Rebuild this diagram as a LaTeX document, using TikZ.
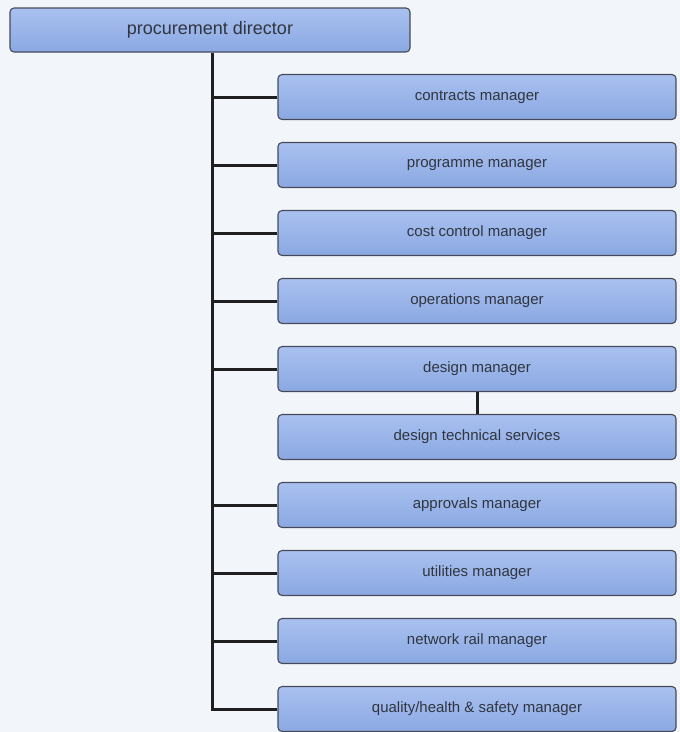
\documentclass[tikz,border=0pt]{standalone}
\usepackage{fontspec}
\setmainfont{Liberation Sans}
\definecolor{boxtop}{HTML}{A9C1F0}
\definecolor{boxbot}{HTML}{8BA8E2}
\definecolor{boxline}{HTML}{454B58}
\definecolor{boxtext}{HTML}{30353F}
\definecolor{bg}{HTML}{F2F5F9}
\begin{document}
\begin{tikzpicture}[x=1pt,y=-1pt,
  box/.style={draw=boxline, line width=1.1pt, rounded corners=4pt,
    top color=boxtop, bottom color=boxbot,
    text=boxtext, inner sep=0pt, anchor=center},
  childbox/.style={box, minimum width=398pt, minimum height=45pt, font=\fontsize{15}{17}\selectfont},
  conn/.style={line width=3pt, draw=black!88}]
\fill[bg] (0,0) rectangle (680,732);
\useasboundingbox (0,0) rectangle (680,732);
\node[box, minimum width=400pt, minimum height=44pt, font=\fontsize{18}{20}\selectfont] (top) at (210,30) {procurement director};
\coordinate (trunkx) at (212,0);
\foreach \n/\y/\t in {c1/97/{contracts manager}, c2/165/{programme manager}, c3/233/{cost control manager}, c4/301/{operations manager}, c5/369/{design manager}, c6/437/{design technical services}, c7/505/{approvals manager}, c8/573/{utilities manager}, c9/641/{network rail manager}, c10/709/{quality/health \& safety manager}}{
  \node[childbox] (\n) at (477,\y) {\t};
}
\draw[conn] (top.south -| trunkx) |- (c10.west);
\foreach \n in {c1,c2,c3,c4,c5,c7,c8,c9}{
  \draw[conn] (trunkx |- \n.west) -- (\n.west);
}
\draw[conn] (c5.south) -- (c6.north);
\end{tikzpicture}
\end{document}
